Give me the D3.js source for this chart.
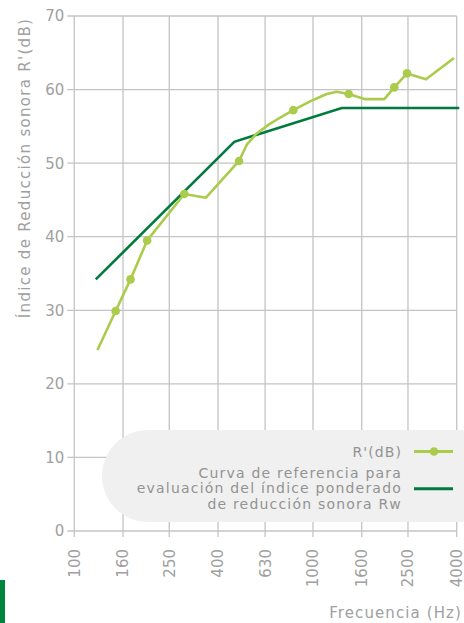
<!DOCTYPE html>
<html>
<head>
<meta charset="utf-8">
<script src="https://cdn.jsdelivr.net/npm/d3@7"></script>
<style>
  body { margin: 0; background: #fff; }
</style>
</head>
<body>
<script>
// ticks del eje X (Hz) y del eje Y (dB)
const freqTicks = [100, 160, 250, 400, 630, 1000, 1600, 2500, 4000];
const dbTicks = [0, 10, 20, 30, 40, 50, 60, 70];

// R'(dB) medido: frecuencia, valor, y si lleva marcador
const rFreq  = [125, 149, 172, 202, 289, 356, 490, 530, 580, 650, 720, 827, 972, 1142, 1257, 1411, 1653, 1990, 2191, 2477, 2975, 3898];
const rValue = [24.6, 29.9, 34.2, 39.5, 45.8, 45.3, 50.3, 52.6, 54.0, 55.2, 56.1, 57.2, 58.4, 59.4, 59.7, 59.4, 58.7, 58.7, 60.3, 62.2, 61.4, 64.3];
const rDot   = [0, 1, 1, 1, 1, 0, 1, 0, 0, 0, 0, 1, 0, 0, 0, 1, 0, 0, 1, 1, 0, 0];

// curva de referencia
const refFreq  = [123, 468, 1320, 4100];
const refValue = [34.2, 52.9, 57.5, 57.5];

const legendLabels = ["R'(dB)", ["Curva de referencia para", "evaluación del índice ponderado", "de reducción sonora Rw"]];

const width = 464, height = 623;
const lightGreen = "#aacb4c", darkGreen = "#007a3d", grid = "#c4c4c4";
const font = "'DejaVu Sans', Verdana, sans-serif";

const svg = d3.select("body").append("svg")
  .attr("width", width)
  .attr("height", height)
  .attr("font-family", font);

const x = d3.scaleLog().domain([100, 4000]).range([74.3, 456.7]);
const y = d3.scaleLinear().domain([0, 70]).range([531, 16]);

// rejilla
svg.append("g").selectAll("line")
  .data(freqTicks)
  .join("line")
  .attr("x1", d => x(d)).attr("x2", d => x(d))
  .attr("y1", y(70)).attr("y2", y(0) + 6)
  .attr("stroke", grid).attr("stroke-width", 1.3);

svg.append("g").selectAll("line")
  .data(dbTicks)
  .join("line")
  .attr("x1", x(100) - 7).attr("x2", x(4000))
  .attr("y1", d => y(d)).attr("y2", d => y(d))
  .attr("stroke", grid).attr("stroke-width", 1.3);

// etiquetas eje Y
svg.append("g").selectAll("text")
  .data(dbTicks)
  .join("text")
  .attr("x", x(100) - 10)
  .attr("y", d => y(d))
  .attr("dy", "0.36em")
  .attr("text-anchor", "end")
  .attr("fill", "#a0a0a0")
  .style("font-size", "15px")
  .text(d => d);

// etiquetas eje X (giradas)
svg.append("g").selectAll("text")
  .data(freqTicks)
  .join("text")
  .attr("transform", d => `translate(${x(d)},${y(0) + 18}) rotate(-90)`)
  .attr("dy", "0.36em")
  .attr("text-anchor", "end")
  .attr("fill", "#a0a0a0")
  .style("font-size", "15px")
  .text(d => d);

// títulos
svg.append("text")
  .attr("transform", `translate(25,${(19 + 317) / 2}) rotate(-90)`)
  .attr("dy", "0.36em")
  .attr("text-anchor", "middle")
  .attr("fill", "#a0a0a0")
  .style("font-size", "15px")
  .style("letter-spacing", "1.3px")
  .text("Índice de Reducción sonora R'(dB)");

svg.append("text")
  .attr("x", 462).attr("y", 618)
  .attr("text-anchor", "end")
  .attr("fill", "#a0a0a0")
  .style("font-size", "15px")
  .style("letter-spacing", "1.1px")
  .text("Frecuencia (Hz)");

// leyenda (fondo)
svg.append("rect")
  .attr("x", 102).attr("y", 430)
  .attr("width", 420).attr("height", 92)
  .attr("rx", 46)
  .attr("fill", "#f0f0f0");

// curva de referencia
const refData = refFreq.map((f, i) => [f, refValue[i]]);
svg.append("path")
  .datum(refData)
  .attr("fill", "none")
  .attr("stroke", darkGreen)
  .attr("stroke-width", 2.6)
  .attr("d", d3.line().x(d => x(d[0])).y(d => y(d[1])));

// R'(dB)
const rData = rFreq.map((f, i) => ({ f, v: rValue[i], dot: rDot[i] }));
svg.append("path")
  .datum(rData)
  .attr("fill", "none")
  .attr("stroke", lightGreen)
  .attr("stroke-width", 2.6)
  .attr("stroke-linejoin", "round")
  .attr("d", d3.line().x(d => x(d.f)).y(d => y(d.v)));

svg.append("g").selectAll("circle")
  .data(rData.filter(d => d.dot))
  .join("circle")
  .attr("cx", d => x(d.f))
  .attr("cy", d => y(d.v))
  .attr("r", 4.3)
  .attr("fill", lightGreen);

// leyenda (contenido)
const lg = svg.append("g").attr("fill", "#939393");
lg.append("text")
  .attr("x", 402).attr("y", 456.5)
  .attr("text-anchor", "end")
  .style("font-size", "14px")
  .style("letter-spacing", "1.1px")
  .text(legendLabels[0]);
lg.append("line")
  .attr("x1", 414).attr("x2", 453)
  .attr("y1", 451.5).attr("y2", 451.5)
  .attr("stroke", lightGreen).attr("stroke-width", 3);
lg.append("circle")
  .attr("cx", 434).attr("cy", 451.5).attr("r", 4.3)
  .attr("fill", lightGreen);

lg.selectAll(".l2")
  .data(legendLabels[1])
  .join("text")
  .attr("x", 402)
  .attr("y", (d, i) => 477.5 + i * 15.8)
  .attr("text-anchor", "end")
  .style("font-size", "14px")
  .style("letter-spacing", "1.2px")
  .text(d => d);
lg.append("line")
  .attr("x1", 414).attr("x2", 453)
  .attr("y1", 488.7).attr("y2", 488.7)
  .attr("stroke", darkGreen).attr("stroke-width", 3);

// marca verde abajo a la izquierda
svg.append("rect")
  .attr("x", 0).attr("y", 580)
  .attr("width", 5).attr("height", 43)
  .attr("fill", "#00853e");
</script>
</body>
</html>
